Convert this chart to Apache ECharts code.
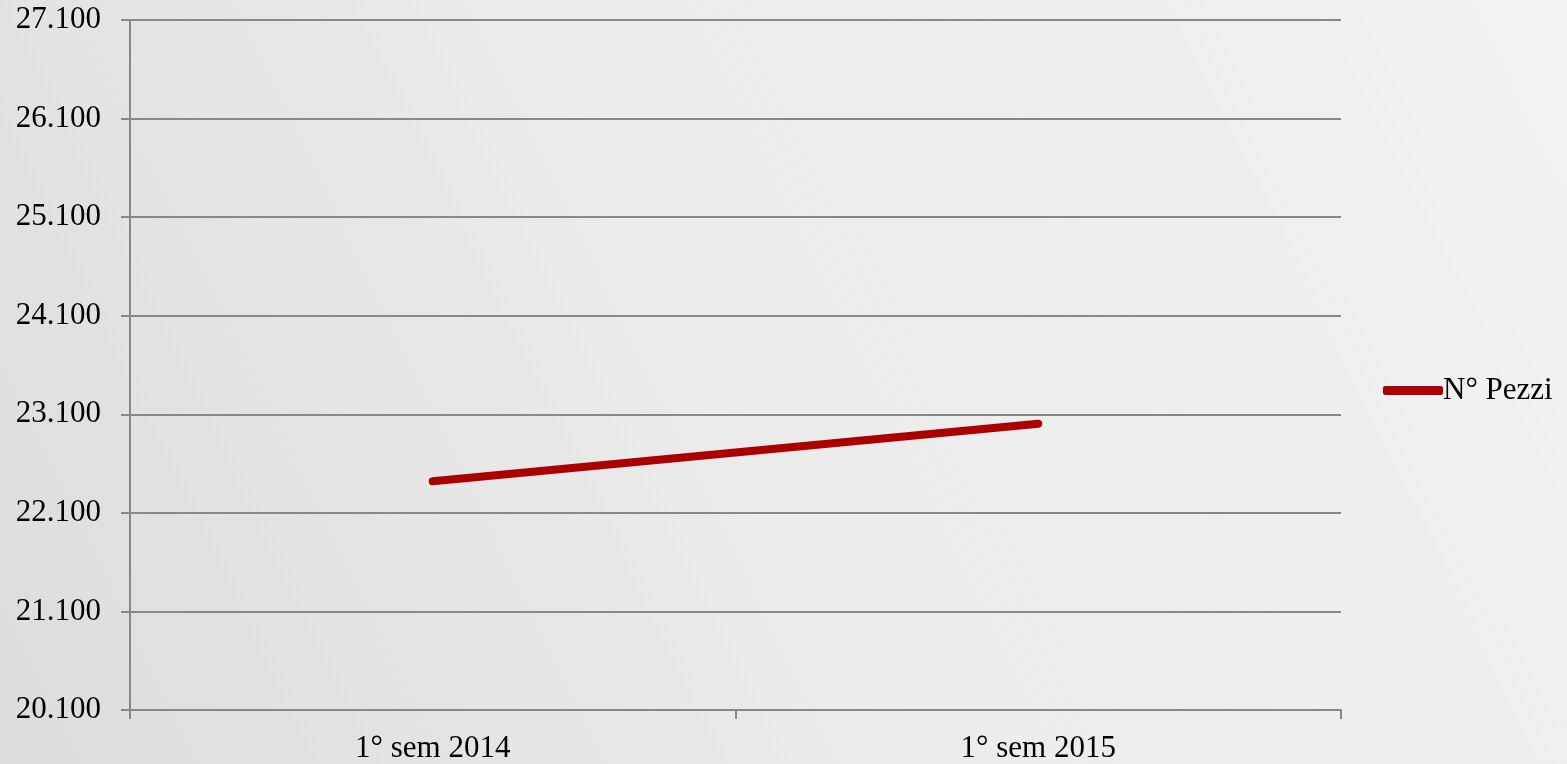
<!DOCTYPE html>
<html>
<head>
<meta charset="utf-8">
<script src="https://cdn.jsdelivr.net/npm/echarts@6/dist/echarts.min.js"></script>
<style>
html,body{margin:0;padding:0;background:#e9e9e9;}
#c{width:1567px;height:764px;}
</style>
</head>
<body>
<div id="c"></div>
<script>
const categories = ['1° sem 2014', '1° sem 2015'];
const seriesName = 'N° Pezzi';
const pezzi = [22420, 23005];
const yTicks = [20100, 21100, 22100, 23100, 24100, 25100, 26100, 27100];

const fmt = v => String(v).replace(/\B(?=(\d{3})+(?!\d))/g, '.');
const gray = '#888888';
const font = 'Liberation Serif';

const chart = echarts.init(document.getElementById('c'));
chart.setOption({
  backgroundColor: new echarts.graphic.LinearGradient(1, 0, 0, 1, [
    { offset: 0, color: '#f2f2f2' },
    { offset: 0.55, color: '#ebebeb' },
    { offset: 1, color: '#dcdcdc' }
  ]),
  animation: false,
  grid: { left: 130, right: 226, top: 20, bottom: 54, containLabel: false },
  legend: {
    data: [{ name: seriesName, icon: 'roundRect' }],
    left: 1378, top: 370,
    itemWidth: 60, itemHeight: 9, itemGap: 0,
    textStyle: { fontFamily: font, fontSize: 31, color: '#000', padding: [0, 0, 0, -5] }
  },
  xAxis: {
    type: 'category',
    data: categories,
    boundaryGap: true,
    axisLine: { lineStyle: { color: gray, width: 2 } },
    axisTick: { show: true, length: 9, alignWithLabel: false, lineStyle: { color: gray, width: 2 } },
    axisLabel: { fontFamily: font, fontSize: 31, color: '#000', margin: 23 },
    splitLine: { show: false }
  },
  yAxis: {
    type: 'value',
    min: yTicks[0],
    max: yTicks[yTicks.length - 1],
    interval: yTicks[1] - yTicks[0],
    axisLine: { show: true, lineStyle: { color: gray, width: 2 } },
    axisTick: { show: true, length: 9, customValues: yTicks, lineStyle: { color: gray, width: 2 } },
    axisLabel: { fontFamily: font, fontSize: 31, color: '#000', margin: 29, customValues: yTicks, formatter: fmt },
    splitLine: { show: true, lineStyle: { color: gray, width: 2 } }
  },
  series: [{
    name: seriesName,
    type: 'line',
    data: pezzi,
    symbol: 'none',
    lineStyle: { color: '#aa0000', width: 8, cap: 'round' },
    itemStyle: { color: '#aa0000' }
  }]
});
</script>
</body>
</html>
